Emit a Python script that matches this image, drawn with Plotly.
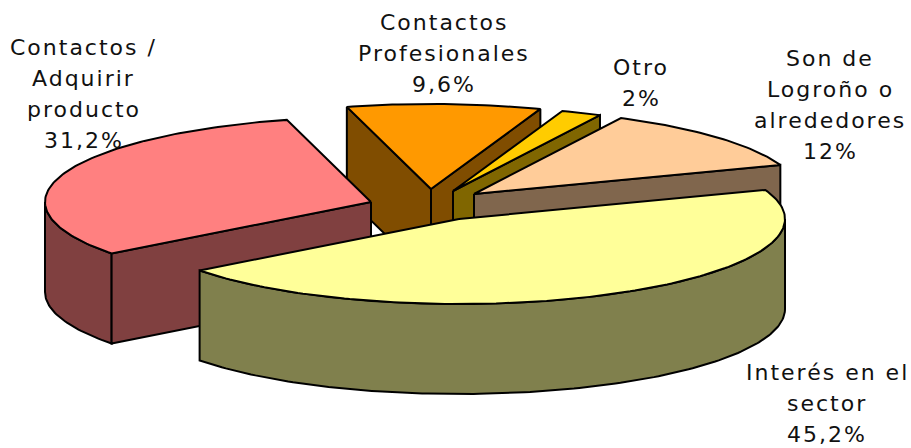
import math
import plotly.graph_objects as go

# Data
categories = ["Interés en el sector", "Contactos / Adquirir producto",
              "Contactos Profesionales", "Otro", "Son de Logroño o alrededores"]
values = [45.2, 31.2, 9.6, 2, 12]
value_text = ["45,2%", "31,2%", "9,6%", "2%", "12%"]
top_colors = ["#FFFF99", "#FF8080", "#FF9900", "#FFCC00", "#FFCC99"]
side_colors = ["#80804D", "#804040", "#804D00", "#806600", "#80664D"]
draw_order = [2, 3, 4, 1, 0]

# Exploded slice apex positions, on the page
apex_x = [459, 371, 431, 453, 474]
apex_y = [219, 202, 189, 191, 194]

# Projection
RX, RY, DEPTH = 326, 85, 90
START_ANGLE = -20.0

label_lines = [
    ["Interés en el", "sector", "45,2%"],
    ["Contactos /", "Adquirir", "producto", "31,2%"],
    ["Contactos", "Profesionales", "9,6%"],
    ["Otro", "2%"],
    ["Son de", "Logroño o", "alrededores", "12%"],
]
label_cx = [827, 84, 444, 641, 830]
label_y0 = [372, 47, 22, 67, 58]
LINE_H = 31.2
FONT = "DejaVu Sans"
FONT_SIZE = 22


def pt(i, deg, dz=0):
    t = math.radians(deg)
    return apex_x[i] + RX * math.cos(t), apex_y[i] + RY * math.sin(t) + dz


def arc(i, a0, a1, dz=0):
    n = max(2, int(abs(a1 - a0)) + 1)
    return [pt(i, a0 + (a1 - a0) * k / (n - 1), dz) for k in range(n)]


def poly(fig, pts, color):
    xs = [p[0] for p in pts] + [pts[0][0]]
    ys = [p[1] for p in pts] + [pts[0][1]]
    fig.add_trace(go.Scatter(x=xs, y=ys, mode="lines", fill="toself",
                             fillcolor=color, hoverinfo="skip",
                             line=dict(color="black", width=2)))


bounds = []
a = START_ANGLE
for v in values:
    b = a + v * 3.6
    bounds.append((a, b))
    a = b

fig = go.Figure()
for i in draw_order:
    a0, a1 = bounds[i]
    c = (apex_x[i], apex_y[i])
    side = side_colors[i]
    # rim: front half of the ellipse only
    for base in (0, 360, -360):
        lo, hi = max(a0, base), min(a1, base + 180)
        if lo < hi:
            poly(fig, arc(i, lo, hi) + arc(i, hi, lo, DEPTH), side)
    # visible cut faces
    if math.sin(math.radians(a0 - 90)) > 0:
        poly(fig, [c, pt(i, a0), pt(i, a0, DEPTH), (c[0], c[1] + DEPTH)], side)
    if math.cos(math.radians(a1)) > 0:
        poly(fig, [c, pt(i, a1), pt(i, a1, DEPTH), (c[0], c[1] + DEPTH)], side)
    # top
    poly(fig, [c] + arc(i, a0, a1), top_colors[i])

for lines, cx, y0 in zip(label_lines, label_cx, label_y0):
    for k, line in enumerate(lines):
        fig.add_annotation(x=cx, y=y0 + k * LINE_H, text=line, showarrow=False,
                           xanchor="center", yanchor="middle",
                           font=dict(family=FONT, size=FONT_SIZE, color="#111111"))

fig.update_layout(width=911, height=448, margin=dict(l=0, r=0, t=0, b=0),
                  paper_bgcolor="white", plot_bgcolor="white", showlegend=False,
                  xaxis=dict(range=[0, 911], visible=False, fixedrange=True),
                  yaxis=dict(range=[448, 0], visible=False, fixedrange=True))
fig.write_html("out.html", config={"displayModeBar": False},
               post_script="document.body.style.margin='0';"
                           "document.querySelectorAll('.annotation-text')"
                           ".forEach(function(t){t.style.letterSpacing='2px';});")
